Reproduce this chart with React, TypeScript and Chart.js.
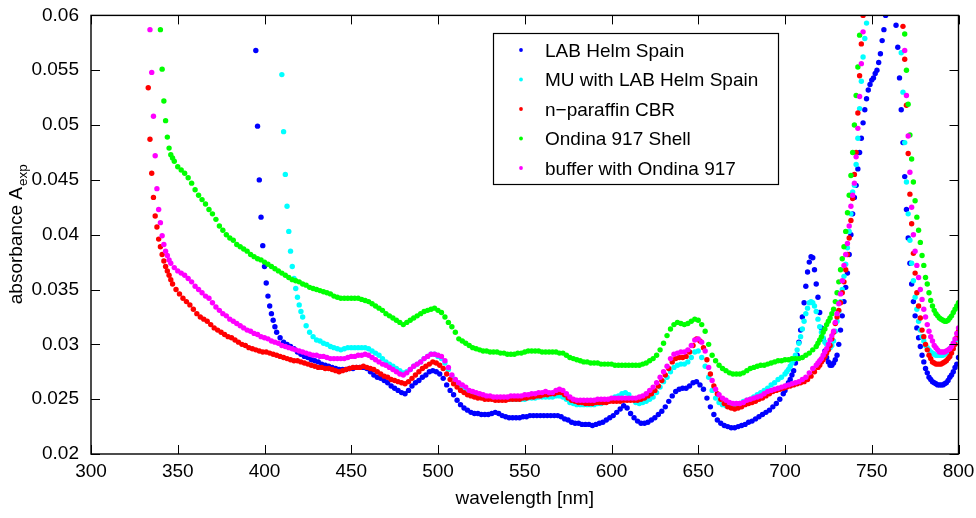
import React, { useEffect, useRef } from 'react';
import { Chart, registerables } from 'chart.js';

Chart.register(...registerables);

// ---------------- data ----------------
const seriesLabels = [
  'LAB Helm Spain',
  'MU with LAB Helm Spain',
  'n\u2212paraffin CBR',
  'Ondina 917 Shell',
  'buffer with Ondina 917',
];
const seriesColors = ['#0000ff', '#00ffff', '#ff0000', '#00ff00', '#ff00ff'];

const wavelengthStep = 2; // nm between samples inside each array

const xTickValues = [300, 350, 400, 450, 500, 550, 600, 650, 700, 750, 800];
const yTickValues = [0.02, 0.025, 0.03, 0.035, 0.04, 0.045, 0.05, 0.055, 0.06];
const yTickLabels = ['0.02', '0.025', '0.03', '0.035', '0.04', '0.045', '0.05', '0.055', '0.06'];

// ---- LAB Helm Spain ----
const labStart = 395;
const labValues = [
  0.0568, 0.0450, 0.0390, 0.0356, 0.0335, 0.0322, 0.0311, 0.0306, 0.0302, 0.0300,
  0.0298, 0.0296, 0.0293, 0.0291, 0.0289, 0.0288, 0.0286, 0.0285, 0.0284, 0.0282,
  0.0281, 0.0280, 0.0279, 0.0278, 0.0277, 0.0277, 0.0277, 0.0278, 0.0278, 0.0279,
  0.0279, 0.0279, 0.0278, 0.0275, 0.0272, 0.0270, 0.0269, 0.0267, 0.0265, 0.0262,
  0.0260, 0.0258, 0.0256, 0.0255, 0.0258, 0.0262, 0.0265, 0.0267, 0.0270, 0.0272,
  0.0275, 0.0276, 0.0275, 0.0273, 0.0269, 0.0263, 0.0258, 0.0254, 0.0249, 0.0245,
  0.0242, 0.0240, 0.0238, 0.0237, 0.0237, 0.0236, 0.0236, 0.0236, 0.0237, 0.0238,
  0.0237, 0.0235, 0.0234, 0.0233, 0.0233, 0.0233, 0.0233, 0.0234, 0.0234, 0.0235,
  0.0235, 0.0235, 0.0235, 0.0235, 0.0235, 0.0235, 0.0235, 0.0235, 0.0234, 0.0232,
  0.0231, 0.0229, 0.0228, 0.0228, 0.0227, 0.0227, 0.0227, 0.0226, 0.0227, 0.0228,
  0.0229, 0.0231, 0.0233, 0.0235, 0.0238, 0.0241, 0.0244, 0.0242, 0.0237, 0.0233,
  0.0230, 0.0228, 0.0228, 0.0229, 0.0231, 0.0233, 0.0236, 0.0239, 0.0243, 0.0248,
  0.0253, 0.0257, 0.0259, 0.0260, 0.0260, 0.0262, 0.0265, 0.0266, 0.0263, 0.0259,
  0.0251, 0.0243, 0.0236, 0.0231, 0.0228, 0.0226, 0.0225, 0.0224, 0.0224, 0.0225,
  0.0226, 0.0227, 0.0229, 0.0230, 0.0232, 0.0234, 0.0236, 0.0238, 0.0240, 0.0243,
  0.0246, 0.0250, 0.0255, 0.0262, 0.0268, 0.0276, 0.0290, 0.0313, 0.0338, 0.0366,
  0.0380, 0.0368, 0.0343, 0.0315, 0.0294, 0.0284, 0.0281, 0.0286, 0.0300, 0.0326,
  0.0352, 0.0382, 0.0419, 0.0445, 0.0475, 0.0502, 0.0524, 0.0537, 0.0543, 0.0550,
  0.0565, 0.0587, 0.0606, 0.0615, 0.0606, 0.0571, 0.0514, 0.0453, 0.0397, 0.0355,
  0.0326, 0.0306, 0.0290, 0.0278, 0.0270, 0.0266, 0.0264, 0.0263, 0.0263, 0.0265,
  0.0270, 0.0275, 0.0282,
];
const labRiseStart = 396;
const labRiseValues = [0.0499, 0.0416, 0.0371, 0.0344, 0.0328, 0.0316];
const labPeakStart = 700;
const labPeakValues = [
  0.0258, 0.0265, 0.0272, 0.0283, 0.0302, 0.0325, 0.0353, 0.0375, 0.0379, 0.0355,
  0.0329, 0.0305, 0.0288, 0.0281, 0.0283, 0.0290, 0.0313, 0.0339, 0.0365, 0.0400,
  0.0434, 0.0460, 0.0488, 0.0514, 0.0532, 0.0541, 0.0547, 0.0557, 0.0577, 0.0600,
  0.0612, 0.0612, 0.0591, 0.0543, 0.0484, 0.0423, 0.0374, 0.0339, 0.0315, 0.0298,
  0.0284, 0.0274, 0.0268, 0.0265, 0.0263, 0.0263, 0.0264, 0.0267, 0.0272, 0.0279,
  0.0288,
];

// ---- MU with LAB Helm Spain ----
const muStart = 410;
const muValues = [
  0.0546, 0.0455, 0.0403, 0.0371, 0.0351, 0.0336, 0.0325, 0.0317, 0.0311, 0.0307,
  0.0304, 0.0303, 0.0301, 0.0300, 0.0298, 0.0297, 0.0296, 0.0295, 0.0296, 0.0297,
  0.0297, 0.0297, 0.0297, 0.0297, 0.0297, 0.0296, 0.0294, 0.0292, 0.0290, 0.0287,
  0.0284, 0.0282, 0.0280, 0.0278, 0.0276, 0.0274, 0.0275, 0.0277, 0.0280, 0.0282,
  0.0284, 0.0287, 0.0289, 0.0291, 0.0291, 0.0289, 0.0287, 0.0283, 0.0277, 0.0271,
  0.0266, 0.0263, 0.0260, 0.0258, 0.0256, 0.0255, 0.0254, 0.0253, 0.0252, 0.0251,
  0.0251, 0.0250, 0.0250, 0.0250, 0.0250, 0.0250, 0.0250, 0.0250, 0.0250, 0.0250,
  0.0250, 0.0251, 0.0251, 0.0251, 0.0252, 0.0252, 0.0252, 0.0252, 0.0252, 0.0253,
  0.0253, 0.0252, 0.0250, 0.0247, 0.0246, 0.0245, 0.0245, 0.0245, 0.0245, 0.0245,
  0.0245, 0.0246, 0.0246, 0.0247, 0.0248, 0.0250, 0.0252, 0.0253, 0.0255, 0.0256,
  0.0254, 0.0250, 0.0247, 0.0246, 0.0247, 0.0248, 0.0250, 0.0252, 0.0256, 0.0261,
  0.0266, 0.0270, 0.0275, 0.0279, 0.0281, 0.0282, 0.0282, 0.0284, 0.0288, 0.0293,
  0.0294, 0.0288, 0.0280, 0.0270, 0.0258, 0.0251, 0.0247, 0.0245, 0.0244, 0.0244,
  0.0244, 0.0245, 0.0246, 0.0248, 0.0249, 0.0250, 0.0252, 0.0254, 0.0256, 0.0258,
  0.0260, 0.0263, 0.0265, 0.0268, 0.0270, 0.0273, 0.0277, 0.0283, 0.0290, 0.0301,
  0.0314, 0.0328, 0.0338, 0.0338, 0.0330, 0.0316, 0.0306, 0.0300, 0.0297, 0.0303,
  0.0321, 0.0339, 0.0362, 0.0388, 0.0419, 0.0445, 0.0488, 0.0540, 0.0579, 0.0605,
  0.0640, 0.0660, 0.0670, 0.0675, 0.0675, 0.0670, 0.0660, 0.0640, 0.0610, 0.0530,
  0.0448, 0.0395, 0.0358, 0.0332, 0.0313, 0.0303, 0.0297, 0.0293, 0.0291, 0.0290,
  0.0290, 0.0291, 0.0294, 0.0298, 0.0303, 0.0308,
];
const muRiseStart = 411;
const muRiseValues = [0.0494, 0.0426, 0.0385, 0.0360, 0.0343, 0.0330];
const muPeakStart = 701;
const muPeakValues = [
  0.0275, 0.0280, 0.0286, 0.0295, 0.0307, 0.0321, 0.0333, 0.0339, 0.0335, 0.0323,
  0.0311, 0.0302, 0.0298, 0.0299, 0.0312, 0.0330, 0.0350, 0.0373, 0.0403, 0.0439,
  0.0464, 0.0515, 0.0562, 0.0593, 0.0625, 0.0650, 0.0665, 0.0673, 0.0675, 0.0673,
  0.0665, 0.0650, 0.0625, 0.0566, 0.0484, 0.0419, 0.0374, 0.0343, 0.0321, 0.0307,
  0.0299, 0.0295, 0.0292, 0.0290, 0.0290, 0.0290, 0.0292, 0.0296, 0.0300, 0.0306,
];

// ---- n-paraffin CBR ----
const paraffinStart = 333;
const paraffinValues = [
  0.0534, 0.0456, 0.0417, 0.0396, 0.0382, 0.0371, 0.0363, 0.0355, 0.0350, 0.0346,
  0.0342, 0.0339, 0.0336, 0.0332, 0.0328, 0.0325, 0.0323, 0.0321, 0.0318, 0.0315,
  0.0313, 0.0311, 0.0309, 0.0307, 0.0306, 0.0304, 0.0302, 0.0300, 0.0299, 0.0297,
  0.0296, 0.0295, 0.0294, 0.0293, 0.0293, 0.0292, 0.0291, 0.0290, 0.0289, 0.0288,
  0.0287, 0.0286, 0.0285, 0.0285, 0.0284, 0.0283, 0.0282, 0.0281, 0.0280, 0.0279,
  0.0279, 0.0278, 0.0278, 0.0277, 0.0276, 0.0275, 0.0276, 0.0277, 0.0278, 0.0279,
  0.0279, 0.0279, 0.0280, 0.0279, 0.0278, 0.0277, 0.0275, 0.0273, 0.0271, 0.0270,
  0.0268, 0.0267, 0.0266, 0.0265, 0.0264, 0.0266, 0.0269, 0.0272, 0.0275, 0.0278,
  0.0280, 0.0282, 0.0284, 0.0283, 0.0281, 0.0278, 0.0273, 0.0268, 0.0264, 0.0261,
  0.0258, 0.0256, 0.0254, 0.0253, 0.0252, 0.0251, 0.0251, 0.0250, 0.0250, 0.0250,
  0.0249, 0.0249, 0.0249, 0.0249, 0.0250, 0.0250, 0.0250, 0.0250, 0.0251, 0.0251,
  0.0252, 0.0252, 0.0253, 0.0253, 0.0254, 0.0254, 0.0255, 0.0255, 0.0256, 0.0256,
  0.0254, 0.0251, 0.0249, 0.0248, 0.0247, 0.0247, 0.0246, 0.0246, 0.0246, 0.0247,
  0.0247, 0.0247, 0.0247, 0.0248, 0.0248, 0.0248, 0.0248, 0.0249, 0.0249, 0.0249,
  0.0249, 0.0249, 0.0250, 0.0251, 0.0253, 0.0255, 0.0258, 0.0262, 0.0267, 0.0272,
  0.0278, 0.0284, 0.0287, 0.0288, 0.0288, 0.0289, 0.0293, 0.0299, 0.0305, 0.0303,
  0.0297, 0.0286, 0.0273, 0.0262, 0.0255, 0.0250, 0.0246, 0.0243, 0.0242, 0.0241,
  0.0242, 0.0243, 0.0245, 0.0246, 0.0247, 0.0248, 0.0250, 0.0251, 0.0253, 0.0255,
  0.0257, 0.0258, 0.0259, 0.0260, 0.0261, 0.0262, 0.0263, 0.0264, 0.0265, 0.0266,
  0.0268, 0.0271, 0.0275, 0.0279, 0.0284, 0.0289, 0.0295, 0.0305, 0.0319, 0.0331,
  0.0347, 0.0368, 0.0397, 0.0433, 0.0475, 0.0545, 0.0600, 0.0635, 0.0660, 0.0680,
  0.0690, 0.0695, 0.0700, 0.0700, 0.0690, 0.0670, 0.0650, 0.0615, 0.0560, 0.0474,
  0.0410, 0.0365, 0.0335, 0.0313, 0.0300, 0.0290, 0.0284, 0.0282, 0.0282, 0.0283,
  0.0285, 0.0289, 0.0296, 0.0306,
];
const paraffinRiseStart = 334;
const paraffinRiseValues = [0.0487, 0.0434, 0.0407, 0.0389, 0.0376, 0.0367, 0.0359];
const paraffinPeakStart = 720;
const paraffinPeakValues = [
  0.0281, 0.0286, 0.0292, 0.0299, 0.0311, 0.0325, 0.0338, 0.0357, 0.0382, 0.0413,
  0.0455, 0.0511, 0.0574, 0.0620, 0.0648, 0.0670, 0.0685, 0.0693, 0.0698, 0.0700,
  0.0695, 0.0680, 0.0660, 0.0635, 0.0590, 0.0518, 0.0437, 0.0383, 0.0347, 0.0324,
  0.0307, 0.0295, 0.0287, 0.0283, 0.0282, 0.0282, 0.0284, 0.0287, 0.0292, 0.0300,
  0.0312,
];

// ---- Ondina 917 Shell ----
const ondinaStart = 340;
const ondinaValues = [
  0.0587, 0.0522, 0.0489, 0.0473, 0.0467, 0.0462, 0.0459, 0.0456, 0.0452, 0.0447,
  0.0441, 0.0436, 0.0432, 0.0428, 0.0423, 0.0419, 0.0414, 0.0408, 0.0404, 0.0400,
  0.0397, 0.0395, 0.0391, 0.0389, 0.0387, 0.0385, 0.0382, 0.0380, 0.0378, 0.0377,
  0.0375, 0.0373, 0.0371, 0.0369, 0.0367, 0.0365, 0.0363, 0.0361, 0.0359, 0.0358,
  0.0357, 0.0355, 0.0354, 0.0352, 0.0351, 0.0350, 0.0349, 0.0348, 0.0347, 0.0346,
  0.0344, 0.0343, 0.0342, 0.0342, 0.0342, 0.0342, 0.0342, 0.0342, 0.0341, 0.0340,
  0.0339, 0.0337, 0.0335, 0.0333, 0.0331, 0.0328, 0.0326, 0.0324, 0.0322, 0.0320,
  0.0318, 0.0320, 0.0322, 0.0324, 0.0326, 0.0328, 0.0330, 0.0331, 0.0332, 0.0333,
  0.0331, 0.0329, 0.0325, 0.0320, 0.0316, 0.0311, 0.0305, 0.0303, 0.0301, 0.0299,
  0.0297, 0.0296, 0.0295, 0.0294, 0.0294, 0.0293, 0.0293, 0.0293, 0.0292, 0.0292,
  0.0291, 0.0291, 0.0291, 0.0292, 0.0292, 0.0293, 0.0294, 0.0294, 0.0294, 0.0294,
  0.0293, 0.0293, 0.0293, 0.0293, 0.0293, 0.0292, 0.0292, 0.0290, 0.0288, 0.0287,
  0.0286, 0.0285, 0.0284, 0.0284, 0.0283, 0.0283, 0.0283, 0.0282, 0.0282, 0.0282,
  0.0282, 0.0281, 0.0281, 0.0281, 0.0281, 0.0281, 0.0281, 0.0281, 0.0281, 0.0282,
  0.0283, 0.0285, 0.0287, 0.0290, 0.0295, 0.0301, 0.0308, 0.0314, 0.0318, 0.0320,
  0.0319, 0.0318, 0.0319, 0.0321, 0.0323, 0.0322, 0.0318, 0.0312, 0.0300, 0.0290,
  0.0285, 0.0281, 0.0278, 0.0276, 0.0274, 0.0273, 0.0273, 0.0273, 0.0274, 0.0276,
  0.0278, 0.0279, 0.0280, 0.0281, 0.0281, 0.0282, 0.0283, 0.0284, 0.0285, 0.0285,
  0.0286, 0.0286, 0.0287, 0.0287, 0.0287, 0.0288, 0.0290, 0.0292, 0.0295, 0.0298,
  0.0304, 0.0311, 0.0318, 0.0324, 0.0332, 0.0347, 0.0368, 0.0389, 0.0420, 0.0454,
  0.0500, 0.0553, 0.0615, 0.0660, 0.0690, 0.0710, 0.0720, 0.0725, 0.0725, 0.0720,
  0.0710, 0.0695, 0.0675, 0.0650, 0.0615, 0.0550, 0.0491, 0.0448, 0.0416, 0.0393,
  0.0372, 0.0355, 0.0340, 0.0331, 0.0326, 0.0323, 0.0321, 0.0322, 0.0326, 0.0332,
  0.0338,
];
const ondinaRiseStart = 341;
const ondinaRiseValues = [0.0551, 0.0504, 0.0479, 0.0470];
const ondinaPeakStart = 719;
const ondinaPeakValues = [
  0.0301, 0.0307, 0.0314, 0.0321, 0.0328, 0.0339, 0.0357, 0.0378, 0.0403, 0.0436,
  0.0475, 0.0527, 0.0582, 0.0640, 0.0675, 0.0700, 0.0715, 0.0723, 0.0725, 0.0723,
  0.0715, 0.0703, 0.0685, 0.0663, 0.0635, 0.0583, 0.0519, 0.0469, 0.0431, 0.0404,
  0.0381, 0.0361, 0.0347, 0.0335, 0.0328, 0.0324, 0.0322, 0.0321, 0.0324, 0.0329,
  0.0335,
];

// ---- buffer with Ondina 917 ----
const bufferStart = 334;
const bufferValues = [
  0.0587, 0.0508, 0.0442, 0.0411, 0.0391, 0.0381, 0.0374, 0.0370, 0.0367, 0.0365,
  0.0363, 0.0360, 0.0357, 0.0353, 0.0350, 0.0347, 0.0344, 0.0342, 0.0338, 0.0334,
  0.0331, 0.0328, 0.0326, 0.0323, 0.0321, 0.0319, 0.0317, 0.0315, 0.0313, 0.0312,
  0.0310, 0.0309, 0.0307, 0.0306, 0.0305, 0.0303, 0.0302, 0.0301, 0.0299, 0.0298,
  0.0297, 0.0296, 0.0295, 0.0294, 0.0293, 0.0292, 0.0291, 0.0290, 0.0290, 0.0289,
  0.0289, 0.0288, 0.0287, 0.0287, 0.0287, 0.0287, 0.0287, 0.0288, 0.0289, 0.0289,
  0.0290, 0.0290, 0.0291, 0.0290, 0.0288, 0.0286, 0.0284, 0.0282, 0.0281, 0.0279,
  0.0277, 0.0275, 0.0273, 0.0272, 0.0274, 0.0277, 0.0280, 0.0282, 0.0284, 0.0287,
  0.0289, 0.0291, 0.0291, 0.0290, 0.0289, 0.0285, 0.0279, 0.0272, 0.0268, 0.0265,
  0.0263, 0.0261, 0.0258, 0.0257, 0.0256, 0.0255, 0.0254, 0.0253, 0.0253, 0.0252,
  0.0252, 0.0252, 0.0252, 0.0252, 0.0253, 0.0253, 0.0253, 0.0253, 0.0254, 0.0254,
  0.0255, 0.0255, 0.0256, 0.0256, 0.0257, 0.0256, 0.0256, 0.0258, 0.0259, 0.0258,
  0.0255, 0.0252, 0.0250, 0.0249, 0.0249, 0.0249, 0.0249, 0.0249, 0.0249, 0.0250,
  0.0250, 0.0250, 0.0250, 0.0251, 0.0251, 0.0251, 0.0251, 0.0251, 0.0251, 0.0251,
  0.0251, 0.0252, 0.0253, 0.0255, 0.0258, 0.0261, 0.0265, 0.0270, 0.0275, 0.0280,
  0.0287, 0.0291, 0.0292, 0.0293, 0.0293, 0.0295, 0.0299, 0.0304, 0.0305, 0.0302,
  0.0294, 0.0279, 0.0267, 0.0259, 0.0254, 0.0251, 0.0249, 0.0247, 0.0246, 0.0246,
  0.0246, 0.0247, 0.0249, 0.0250, 0.0251, 0.0252, 0.0253, 0.0255, 0.0257, 0.0258,
  0.0259, 0.0260, 0.0261, 0.0262, 0.0263, 0.0264, 0.0265, 0.0266, 0.0268, 0.0270,
  0.0274, 0.0278, 0.0281, 0.0285, 0.0290, 0.0296, 0.0304, 0.0312, 0.0328, 0.0346,
  0.0372, 0.0392, 0.0426, 0.0447, 0.0497, 0.0556, 0.0615, 0.0650, 0.0670, 0.0685,
  0.0690, 0.0695, 0.0695, 0.0690, 0.0680, 0.0665, 0.0645, 0.0605, 0.0527, 0.0457,
  0.0400, 0.0372, 0.0350, 0.0332, 0.0318, 0.0307, 0.0299, 0.0295, 0.0293, 0.0293,
  0.0295, 0.0298, 0.0305, 0.0315,
];
const bufferRiseStart = 335;
const bufferRiseValues = [0.0548, 0.0472, 0.0423, 0.0399, 0.0385, 0.0377];
const bufferPeakStart = 719;
const bufferPeakValues = [
  0.0283, 0.0287, 0.0293, 0.0300, 0.0308, 0.0320, 0.0337, 0.0358, 0.0382, 0.0408,
  0.0436, 0.0471, 0.0526, 0.0585, 0.0635, 0.0660, 0.0678, 0.0688, 0.0693, 0.0695,
  0.0693, 0.0685, 0.0673, 0.0655, 0.0628, 0.0568, 0.0490, 0.0425, 0.0385, 0.0361,
  0.0341, 0.0325, 0.0312, 0.0303, 0.0297, 0.0293, 0.0293, 0.0294, 0.0296, 0.0301,
  0.0310,
];

const FONT = "'Liberation Sans', Arial, Helvetica, sans-serif";

const toPoints = (values: number[], start: number) =>
  values.map((v, i) => ({ x: start + i * wavelengthStep, y: v }));

const seriesPoints = [
  [...toPoints(labValues, labStart), ...toPoints(labRiseValues, labRiseStart), ...toPoints(labPeakValues, labPeakStart)],
  [...toPoints(muValues, muStart), ...toPoints(muRiseValues, muRiseStart), ...toPoints(muPeakValues, muPeakStart)],
  [...toPoints(paraffinValues, paraffinStart), ...toPoints(paraffinRiseValues, paraffinRiseStart), ...toPoints(paraffinPeakValues, paraffinPeakStart)],
  [...toPoints(ondinaValues, ondinaStart), ...toPoints(ondinaRiseValues, ondinaRiseStart), ...toPoints(ondinaPeakValues, ondinaPeakStart)],
  [...toPoints(bufferValues, bufferStart), ...toPoints(bufferRiseValues, bufferRiseStart), ...toPoints(bufferPeakValues, bufferPeakStart)],
];
// later legend entries are drawn on top
const seriesOrder = [5, 4, 3, 2, 1];

const matlabPlugin = {
  id: 'matlabDecor',
  afterDatasetsDraw(chart: any) {
    const { ctx, chartArea: a, scales } = chart;
    const xs = scales.x;
    const ys = scales.y;
    ctx.save();
    ctx.strokeStyle = '#000';
    ctx.lineWidth = 1;
    ctx.beginPath();
    xTickValues.forEach((v) => {
      const px = Math.round(xs.getPixelForValue(v)) + 0.5;
      ctx.moveTo(px, a.bottom);
      ctx.lineTo(px, a.bottom - 9);
      ctx.moveTo(px, a.top);
      ctx.lineTo(px, a.top + 9);
    });
    yTickValues.forEach((v) => {
      const py = Math.round(ys.getPixelForValue(v)) + 0.5;
      ctx.moveTo(a.left, py);
      ctx.lineTo(a.left + 9, py);
      ctx.moveTo(a.right, py);
      ctx.lineTo(a.right - 9, py);
    });
    ctx.stroke();
    ctx.lineWidth = 1.4;
    ctx.strokeRect(a.left, a.top, a.right - a.left, a.bottom - a.top);
    ctx.restore();
  },
  afterDraw(chart: any) {
    const { ctx, chartArea: a } = chart;
    ctx.save();
    ctx.fillStyle = '#000';
    // x title
    ctx.font = `19px ${FONT}`;
    ctx.textAlign = 'center';
    ctx.textBaseline = 'alphabetic';
    ctx.fillText('wavelength [nm]', (a.left + a.right) / 2, 504);
    // y title with subscript
    ctx.save();
    ctx.translate(22, (a.top + a.bottom) / 2);
    ctx.rotate(-Math.PI / 2);
    ctx.textAlign = 'left';
    ctx.font = `19px ${FONT}`;
    const mainText = 'absorbance A';
    const mainW = ctx.measureText(mainText).width;
    ctx.font = `13.5px ${FONT}`;
    const subW = ctx.measureText('exp').width;
    const start = -(mainW + subW) / 2;
    ctx.font = `19px ${FONT}`;
    ctx.fillText(mainText, start, 0);
    ctx.font = `13.5px ${FONT}`;
    ctx.fillText('exp', start + mainW + 1, 5);
    ctx.restore();
    // legend
    const lx = 493;
    const ly = 33;
    const lw = 285;
    const lh = 151;
    ctx.fillStyle = '#fff';
    ctx.fillRect(lx, ly, lw, lh);
    ctx.strokeStyle = '#000';
    ctx.lineWidth = 1.2;
    ctx.strokeRect(lx + 0.5, ly + 0.5, lw, lh);
    ctx.font = `19px ${FONT}`;
    ctx.textAlign = 'left';
    ctx.textBaseline = 'alphabetic';
    chart.data.datasets.forEach((ds: any, i: number) => {
      const cy = 50 + i * 29.5;
      ctx.fillStyle = ds.pointBackgroundColor;
      ctx.beginPath();
      ctx.arc(521, cy, 1.9, 0, Math.PI * 2);
      ctx.fill();
      ctx.fillStyle = '#000';
      ctx.fillText(ds.label, 545, cy + 6.8);
    });
    ctx.restore();
  },
};

export default function App() {
  const canvasRef = useRef<HTMLCanvasElement | null>(null);

  useEffect(() => {
    document.body.style.margin = '0';
    const canvas = canvasRef.current;
    if (!canvas) return;
    const chart = new Chart(canvas, {
      type: 'scatter',
      data: {
        datasets: seriesLabels.map((label, i) => ({
          label,
          data: seriesPoints[i],
          order: seriesOrder[i],
          showLine: false,
          pointRadius: 2.7,
          pointHoverRadius: 2.7,
          pointBorderWidth: 0,
          pointBackgroundColor: seriesColors[i],
          pointBorderColor: seriesColors[i],
          backgroundColor: seriesColors[i],
          borderColor: seriesColors[i],
        })),
      },
      options: {
        animation: false,
        responsive: false,
        devicePixelRatio: 1,
        events: [],
        layout: { padding: { top: 12.5, right: 17.5, left: 0, bottom: 0 } },
        plugins: {
          legend: { display: false },
          tooltip: { enabled: false },
          title: { display: false },
        },
        scales: {
          x: {
            type: 'linear',
            position: 'bottom',
            min: 300,
            max: 800,
            grid: { display: false },
            border: { display: false },
            afterBuildTicks: (s: any) => {
              s.ticks = xTickValues.map((v) => ({ value: v }));
            },
            afterFit: (s: any) => {
              s.height = 64;
            },
            ticks: {
              autoSkip: false,
              maxRotation: 0,
              padding: -2,
              color: '#000',
              font: { family: FONT, size: 19 },
              callback: (v: any) => String(v),
            },
          },
          y: {
            type: 'linear',
            position: 'left',
            min: 0.02,
            max: 0.06,
            grid: { display: false },
            border: { display: false },
            afterBuildTicks: (s: any) => {
              s.ticks = yTickValues.map((v) => ({ value: v }));
            },
            afterFit: (s: any) => {
              s.width = 91;
            },
            ticks: {
              autoSkip: false,
              padding: 4,
              color: '#000',
              font: { family: FONT, size: 19 },
              callback: (_v: any, idx: number) => yTickLabels[idx],
            },
          },
        },
      },
      plugins: [matlabPlugin],
    } as any);
    return () => chart.destroy();
  }, []);

  return (
    <div style={{ width: 976, height: 518 }}>
      <canvas ref={canvasRef} width={976} height={518} style={{ display: 'block' }} />
    </div>
  );
}
